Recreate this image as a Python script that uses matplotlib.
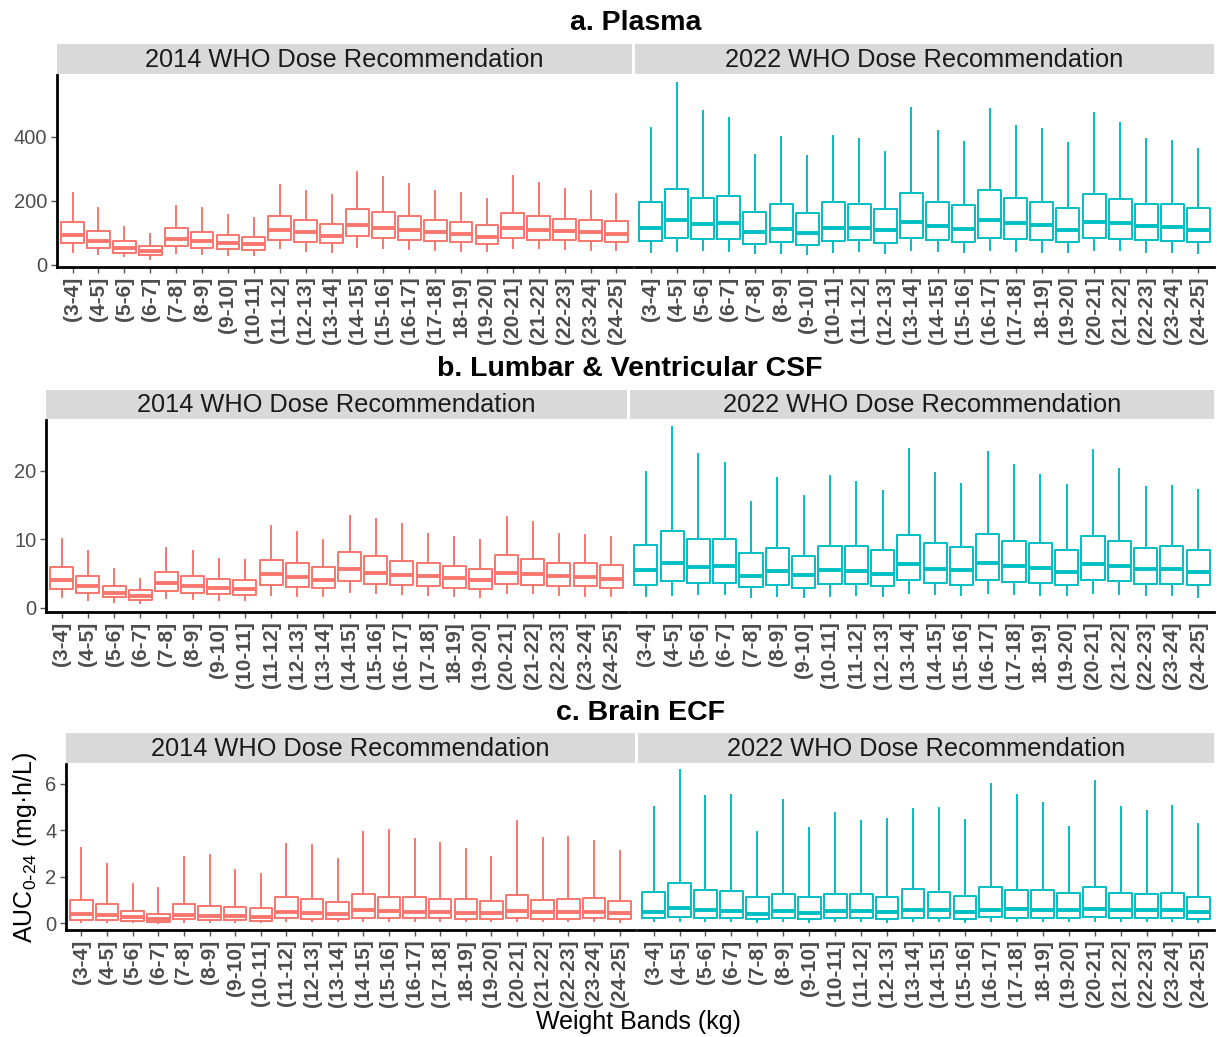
import matplotlib
matplotlib.use("Agg")
import matplotlib.pyplot as plt

plt.rcParams['font.family'] = ['Liberation Sans', 'DejaVu Sans']
plt.rcParams['mathtext.default'] = 'regular'

# ---------------- data ----------------
bands = ["(3-4]", "(4-5]", "(5-6]", "(6-7]", "(7-8]", "(8-9]", "(9-10]", "(10-11]",
         "(11-12]", "(12-13]", "(13-14]", "(14-15]", "(15-16]", "(16-17]", "(17-18]",
         "18-19]", "(19-20]", "(20-21]", "(21-22]", "(22-23]", "(23-24]", "(24-25]"]
facets = ["2014 WHO Dose Recommendation", "2022 WHO Dose Recommendation"]
row_titles = ["a. Plasma", "b. Lumbar & Ventricular CSF", "c. Brain ECF"]

# Plasma 2014
pl14_hi = [226, 177, 118, 97, 185, 177, 156, 146, 251, 231, 219, 290, 274, 253, 231, 226, 207, 277, 255, 236, 231, 221]
pl14_q3 = [133, 107, 74, 58, 115, 103, 93, 87, 154, 141, 127, 175, 165, 154, 141, 134, 123, 162, 154, 144, 141, 136]
pl14_md = [92, 75, 53, 42, 82, 73, 67, 65, 110, 101, 91, 125, 116, 108, 104, 97, 88, 115, 110, 107, 102, 97]
pl14_q1 = [67, 51, 38, 31, 60, 53, 49, 46, 79, 70, 67, 89, 83, 77, 73, 70, 66, 84, 78, 76, 73, 70]
pl14_lo = [41, 33, 26, 19, 38, 33, 31, 30, 52, 44, 41, 57, 52, 50, 47, 44, 44, 54, 52, 49, 47, 45]
# Plasma 2022
pl22_hi = [427, 568, 481, 458, 344, 399, 342, 402, 394, 352, 490, 419, 385, 487, 434, 424, 382, 475, 443, 394, 388, 361]
pl22_q3 = [198, 237, 210, 214, 165, 191, 163, 195, 191, 176, 224, 198, 187, 233, 209, 197, 179, 221, 206, 190, 190, 178]
pl22_md = [115, 139, 128, 131, 101, 113, 99, 116, 116, 108, 135, 122, 113, 139, 130, 124, 110, 135, 130, 121, 117, 109]
pl22_q1 = [73, 83, 80, 80, 65, 72, 63, 74, 76, 68, 84, 78, 71, 85, 80, 77, 72, 85, 81, 78, 75, 71]
pl22_lo = [39, 42, 45, 42, 36, 36, 33, 40, 42, 36, 45, 42, 39, 45, 42, 39, 41, 45, 45, 40, 40, 36]
# CSF 2014
csf14_hi = [10.1, 8.3, 5.7, 4.2, 8.7, 8.3, 7.1, 7.0, 11.9, 11.1, 9.9, 13.4, 12.9, 12.2, 10.8, 10.3, 9.9, 13.3, 12.5, 10.8, 10.7, 10.4]
csf14_q3 = [6.0, 4.7, 3.2, 2.6, 5.2, 4.6, 4.2, 4.0, 7.0, 6.6, 5.9, 8.1, 7.6, 6.9, 6.5, 6.1, 5.6, 7.7, 7.1, 6.5, 6.6, 6.3]
csf14_md = [4.1, 3.2, 2.2, 1.8, 3.6, 3.25, 2.9, 2.8, 4.9, 4.5, 4.1, 5.6, 5.1, 4.8, 4.6, 4.3, 4.0, 5.1, 4.9, 4.7, 4.5, 4.2]
csf14_q1 = [2.7, 2.1, 1.55, 1.2, 2.5, 2.2, 2.0, 1.9, 3.3, 3.1, 2.9, 3.9, 3.5, 3.3, 3.2, 2.9, 2.8, 3.5, 3.4, 3.25, 3.15, 2.96]
csf14_lo = [1.55, 1.2, 0.9, 0.7, 1.5, 1.3, 1.2, 1.1, 1.9, 1.8, 1.7, 2.3, 2.2, 2.0, 1.9, 1.7, 1.6, 2.2, 2.1, 1.9, 1.8, 1.8]
# CSF 2022
csf22_hi = [19.8, 26.4, 22.5, 21.1, 15.4, 18.9, 16.3, 19.2, 18.4, 17.0, 23.1, 19.7, 18.0, 22.8, 20.8, 19.4, 17.9, 23.0, 20.3, 17.6, 17.8, 17.2]
csf22_q3 = [9.1, 11.2, 10.0, 10.1, 7.95, 8.8, 7.5, 9.0, 9.0, 8.4, 10.6, 9.4, 8.9, 10.8, 9.8, 9.4, 8.5, 10.5, 9.8, 8.8, 9.0, 8.5]
csf22_md = [5.5, 6.6, 5.95, 6.15, 4.7, 5.35, 4.8, 5.5, 5.35, 5.0, 6.4, 5.7, 5.5, 6.6, 6.15, 5.85, 5.3, 6.4, 6.05, 5.6, 5.6, 5.2]
csf22_q1 = [3.3, 3.95, 3.65, 3.65, 3.0, 3.4, 2.9, 3.45, 3.45, 3.2, 4.0, 3.7, 3.3, 4.1, 3.8, 3.6, 3.3, 4.0, 3.85, 3.55, 3.55, 3.3]
csf22_lo = [1.75, 1.85, 2.0, 2.0, 1.6, 1.75, 1.6, 1.75, 1.85, 1.75, 2.1, 2.0, 1.85, 2.1, 2.0, 1.85, 1.85, 2.1, 2.0, 1.85, 1.85, 1.6]
# Brain ECF 2014
ecf14_hi = [3.23, 2.55, 1.67, 1.49, 2.84, 2.94, 2.30, 2.12, 3.41, 3.36, 2.75, 3.90, 4.01, 3.62, 3.43, 3.20, 2.84, 4.39, 3.67, 3.71, 3.55, 3.10]
ecf14_q3 = [0.99, 0.83, 0.52, 0.38, 0.83, 0.75, 0.70, 0.65, 1.10, 1.03, 0.90, 1.25, 1.10, 1.13, 1.03, 1.03, 0.94, 1.22, 1.00, 1.03, 1.06, 0.94]
ecf14_md = [0.41, 0.33, 0.26, 0.19, 0.33, 0.30, 0.30, 0.28, 0.46, 0.45, 0.38, 0.55, 0.51, 0.46, 0.46, 0.43, 0.43, 0.51, 0.46, 0.46, 0.46, 0.43]
ecf14_q1 = [0.15, 0.14, 0.10, 0.06, 0.16, 0.14, 0.14, 0.10, 0.22, 0.19, 0.19, 0.23, 0.22, 0.22, 0.20, 0.19, 0.19, 0.22, 0.19, 0.19, 0.20, 0.17]
ecf14_lo = [0.06, 0.05, 0.04, 0.02, 0.06, 0.05, 0.05, 0.04, 0.08, 0.07, 0.07, 0.09, 0.08, 0.08, 0.07, 0.07, 0.07, 0.08, 0.07, 0.07, 0.07, 0.06]
# Brain ECF 2022
ecf22_hi = [5.00, 6.60, 5.46, 5.50, 3.90, 5.30, 4.09, 4.74, 4.40, 4.50, 4.90, 4.97, 4.43, 5.99, 5.50, 5.19, 4.13, 6.10, 5.01, 4.84, 5.03, 4.25]
ecf22_q3 = [1.32, 1.72, 1.43, 1.39, 1.10, 1.25, 1.13, 1.25, 1.25, 1.13, 1.46, 1.32, 1.17, 1.57, 1.41, 1.41, 1.28, 1.54, 1.29, 1.25, 1.28, 1.14]
ecf22_md = [0.48, 0.65, 0.55, 0.52, 0.38, 0.51, 0.45, 0.52, 0.51, 0.48, 0.58, 0.54, 0.48, 0.58, 0.62, 0.54, 0.54, 0.59, 0.54, 0.54, 0.54, 0.46]
ecf22_q1 = [0.20, 0.26, 0.23, 0.23, 0.17, 0.22, 0.19, 0.22, 0.22, 0.19, 0.23, 0.22, 0.19, 0.25, 0.23, 0.22, 0.22, 0.25, 0.22, 0.22, 0.22, 0.17]
ecf22_lo = [0.07, 0.09, 0.08, 0.08, 0.06, 0.07, 0.06, 0.07, 0.07, 0.06, 0.08, 0.07, 0.06, 0.08, 0.08, 0.07, 0.07, 0.08, 0.07, 0.07, 0.07, 0.06]

yticks_a = [0, 200, 400]
yticks_b = [0, 10, 20]
yticks_c = [0, 2, 4, 6]

# ---------------- layout ----------------
W, H = 1220, 1037
fig = plt.figure(figsize=(W / 100, H / 100), dpi=100)
fig.patch.set_facecolor('white')

def ax_px(x0, y0, x1, y1, **kw):
    return fig.add_axes([x0 / W, 1 - y1 / H, (x1 - x0) / W, (y1 - y0) / H], **kw)

colors = ["#F8766D", "#00BFC4"]

rows = [
    dict(title=row_titles[0], ty=23, strip=(44, 74), panel=(75, 267),
         xs=[(57, 632), (635, 1214)], ylim=(-7, 594), yticks=yticks_a,
         data=[(pl14_lo, pl14_q1, pl14_md, pl14_q3, pl14_hi),
               (pl22_lo, pl22_q1, pl22_md, pl22_q3, pl22_hi)]),
    dict(title=row_titles[1], ty=369, strip=(390, 419), panel=(420, 612),
         xs=[(46, 627), (630, 1214)], ylim=(-0.6, 27.4), yticks=yticks_b,
         data=[(csf14_lo, csf14_q1, csf14_md, csf14_q3, csf14_hi),
               (csf22_lo, csf22_q1, csf22_md, csf22_q3, csf22_hi)]),
    dict(title=row_titles[2], ty=713, strip=(733, 763), panel=(764, 930),
         xs=[(66, 635), (638, 1214)], ylim=(-0.3, 6.85), yticks=yticks_c,
         data=[(ecf14_lo, ecf14_q1, ecf14_md, ecf14_q3, ecf14_hi),
               (ecf22_lo, ecf22_q1, ecf22_md, ecf22_q3, ecf22_hi)]),
]

for row in rows:
    xl = (row['xs'][0][0] + row['xs'][1][1]) / 2
    fig.text(xl / W, 1 - row['ty'] / H, row['title'], ha='center', va='center',
             fontsize=20.5, fontweight='bold', color='black')
    for j, (x0, x1) in enumerate(row['xs']):
        # strip
        sax = ax_px(x0, row['strip'][0], x1, row['strip'][1])
        sax.set_facecolor('#d9d9d9')
        for s in sax.spines.values():
            s.set_visible(False)
        sax.set_xticks([]); sax.set_yticks([])
        sax.text(0.5, 0.48, facets[j], ha='center', va='center', fontsize=18.3,
                 color='#1a1a1a', transform=sax.transAxes)
        # panel
        ax = ax_px(x0, row['panel'][0], x1, row['panel'][1])
        lo, q1, md, q3, hi = row['data'][j]
        stats = [dict(whislo=lo[i], q1=q1[i], med=md[i], q3=q3[i], whishi=hi[i],
                      fliers=[], label=bands[i]) for i in range(len(bands))]
        c = colors[j]
        ax.bxp(stats, positions=list(range(len(bands))), widths=0.88,
               showcaps=False, showfliers=False, patch_artist=False,
               boxprops=dict(color=c, linewidth=1.4),
               whiskerprops=dict(color=c, linewidth=1.4),
               medianprops=dict(color=c, linewidth=2.8, solid_capstyle='butt'))
        ax.set_xlim(-0.6, len(bands) - 1 + 0.6)
        ax.set_ylim(*row['ylim'])
        ax.set_xticks(range(len(bands)))
        ax.set_xticklabels(bands, rotation=90, fontsize=15, fontweight='bold',
                           color='#4d4d4d')
        ax.tick_params(axis='x', length=4, width=1, color='#555555', pad=3)
        for s in ['top', 'right']:
            ax.spines[s].set_visible(False)
        ax.spines['bottom'].set_linewidth(2)
        ax.spines['bottom'].set_color('black')
        if j == 0:
            ax.spines['left'].set_linewidth(2)
            ax.spines['left'].set_color('black')
            ax.set_yticks(row['yticks'])
            ax.set_yticklabels([str(v) for v in row['yticks']], fontsize=14.5,
                               color='#4d4d4d')
            ax.tick_params(axis='y', length=4, width=1, color='#555555', pad=3)
        else:
            ax.spines['left'].set_visible(False)
            ax.set_yticks([])
        ax.set_facecolor('white')

fig.text(638 / W, 1 - 1022 / H, 'Weight Bands (kg)', ha='center', va='center',
         fontsize=18, color='black')
fig.text(25 / W, 1 - 847 / H, r'AUC$_{0\text{-}24}$ (mg·h/L)', ha='center',
         va='center', rotation=90, fontsize=18, color='black')

fig.savefig('out.png', dpi=100, facecolor='white')
